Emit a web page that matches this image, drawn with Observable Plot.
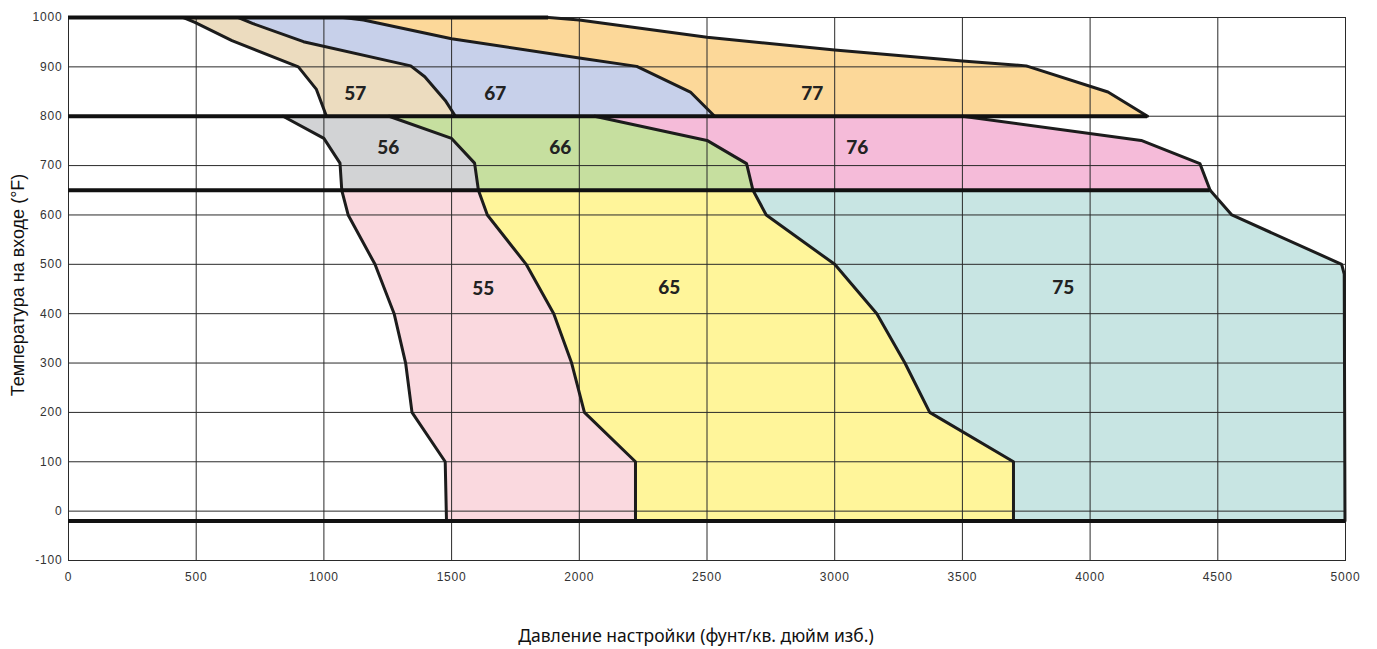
<!DOCTYPE html>
<html>
<head>
<meta charset="utf-8">
<script src="https://cdn.jsdelivr.net/npm/d3@7"></script>
<script src="https://cdn.jsdelivr.net/npm/@observablehq/plot@0.6"></script>
<style>
  html, body { margin: 0; padding: 0; background: #fff; }
  #chart svg { display: block; }
  #chart g[aria-label$="tick label"] text { letter-spacing: 0.8px; }
</style>
</head>
<body>
<div id="chart"></div>
<script>
// ---- axis ticks ----
const xTicks = [0, 500, 1000, 1500, 2000, 2500, 3000, 3500, 4000, 4500, 5000];
const yTicks = [-100, 0, 100, 200, 300, 400, 500, 600, 700, 800, 900, 1000];
const xTitle = "Давление настройки (фунт/кв. дюйм изб.)";
const yTitle = "Температура на входе (°F)";

// ---- region names and colours ----
const regionNames = ["57", "67", "77", "56", "66", "76", "55", "65", "75"];
const regionColors = ["#ecdcbf", "#c7d0ea", "#fcd899", "#d2d3d5", "#c6df9f", "#f5bbd9", "#fad9df", "#fff59a", "#c8e5e3"];
const labelPressure = [1123, 1671, 2912, 1252, 1925, 3088, 1624, 2352, 3895];
const labelTemp = [845, 845, 845, 735, 735, 735, 451, 453, 453];

// ---- boundary curves [pressure, temperature], from band top to band bottom ----
const b57Left  = [[450, 1000], [495, 990], [640, 953], [900, 900], [970, 855], [1010, 800]];
const b57_67   = [[665, 1000], [720, 988], [920, 951], [1340, 902], [1395, 880], [1475, 832], [1515, 800]];
const b67_77   = [[1075, 1000], [1155, 995], [1500, 957], [2000, 918], [2225, 901], [2435, 849], [2530, 800]];
const b77Right = [[1880, 1000], [2000, 995], [2500, 960], [3000, 934], [3500, 912], [3750, 902], [4070, 849], [4225, 800]];

const b56Left  = [[840, 800], [1000, 755], [1063, 705], [1070, 650]];
const b56_66   = [[1255, 800], [1500, 755], [1590, 705], [1605, 650]];
const b66_76   = [[2060, 800], [2500, 751], [2655, 704], [2680, 650]];
const b76Right = [[3500, 800], [4200, 751], [4430, 704], [4470, 650]];

const b55Left  = [[1070, 650], [1095, 600], [1200, 500], [1275, 400], [1320, 300], [1345, 200], [1475, 100], [1480, -20]];
const b55_65   = [[1605, 650], [1640, 600], [1792, 500], [1900, 400], [1970, 300], [2020, 200], [2220, 100], [2220, -20]];
const b65_75   = [[2680, 650], [2732, 600], [3000, 500], [3165, 400], [3275, 300], [3372, 200], [3700, 100], [3700, -20]];
const b75Right = [[4470, 650], [4555, 600], [4985, 500], [4995, 480], [4998, -20]];

// band separators: temperature, start pressure, end pressure
const bandTemp  = [1000, 800, 650, -20];
const bandStart = [0, 0, 0, 0];
const bandEnd   = [1880, 4225, 4470, 5000];

// ---- build tables ----
const regionBounds = [
  [b57Left, b57_67], [b57_67, b67_77], [b67_77, b77Right],
  [b56Left, b56_66], [b56_66, b66_76], [b66_76, b76Right],
  [b55Left, b55_65], [b55_65, b65_75], [b65_75, b75Right]
];
const polygons = regionBounds.map(([L, R], i) =>
  [...L, ...R.slice().reverse()].map(([p, t]) => ({region: regionNames[i], p, t}))
);
const allBounds = [b57Left, b57_67, b67_77, b77Right, b56Left, b56_66, b66_76, b76Right, b55Left, b55_65, b65_75, b75Right];
const boundaryRows = allBounds.flatMap((b, k) => b.map(([p, t]) => ({id: k, p, t})));
const bandRows = bandTemp.map((t, i) => ({t, p1: bandStart[i], p2: bandEnd[i]}));
const labelRows = regionNames.map((n, i) => ({n, p: labelPressure[i], t: labelTemp[i]}));

const fmt = d => (d < 0 ? "-" + Math.abs(d) : String(d));

const chart = Plot.plot({
  width: 1377,
  height: 649,
  marginLeft: 68,
  marginRight: 32,
  marginTop: 17,
  marginBottom: 89,
  x: {domain: [0, 5000]},
  y: {domain: [-100, 1000]},
  style: {fontFamily: "'Liberation Sans', Arial, sans-serif", fontSize: "12px", color: "#333", background: "#fff"},
  marks: [
    ...polygons.map((poly, i) =>
      Plot.line(poly, {x: "p", y: "t", fill: regionColors[i], stroke: "none", curve: "linear-closed"})
    ),
    Plot.gridX(xTicks, {stroke: "#2a2a2a", strokeOpacity: 1, strokeWidth: 1}),
    Plot.gridY(yTicks, {stroke: "#2a2a2a", strokeOpacity: 1, strokeWidth: 1}),
    Plot.frame({stroke: "#2a2a2a", strokeWidth: 1}),
    Plot.line(boundaryRows, {x: "p", y: "t", z: "id", stroke: "#1c1c1c", strokeWidth: 3, strokeLinejoin: "round"}),
    Plot.ruleY(bandRows, {y: "t", x1: "p1", x2: "p2", stroke: "#111", strokeWidth: 4}),
    Plot.text(labelRows, {x: "p", y: "t", text: "n", fontSize: 19, fontWeight: 900, fontFamily: "Lato, 'DejaVu Sans', sans-serif", fill: "#222"}),
    Plot.axisX(xTicks, {tickSize: 0, tickPadding: 12, label: null, tickFormat: fmt, fill: "#333"}),
    Plot.axisY(yTicks, {tickSize: 0, tickPadding: 6, label: null, tickFormat: fmt, fill: "#333"}),
    Plot.text([xTitle], {frameAnchor: "bottom", dy: 76, dx: -11, fontSize: 17.5, fontFamily: "'Noto Sans', 'Open Sans', sans-serif", fill: "#111", textAnchor: "middle", lineAnchor: "middle"}),
    Plot.text([yTitle], {frameAnchor: "left", dx: -50, dy: -4, rotate: -90, fontSize: 18, fontFamily: "'Liberation Sans', Arial, sans-serif", fill: "#111", textAnchor: "middle", lineAnchor: "middle"})
  ]
});
document.getElementById("chart").append(chart);
</script>
</body>
</html>
